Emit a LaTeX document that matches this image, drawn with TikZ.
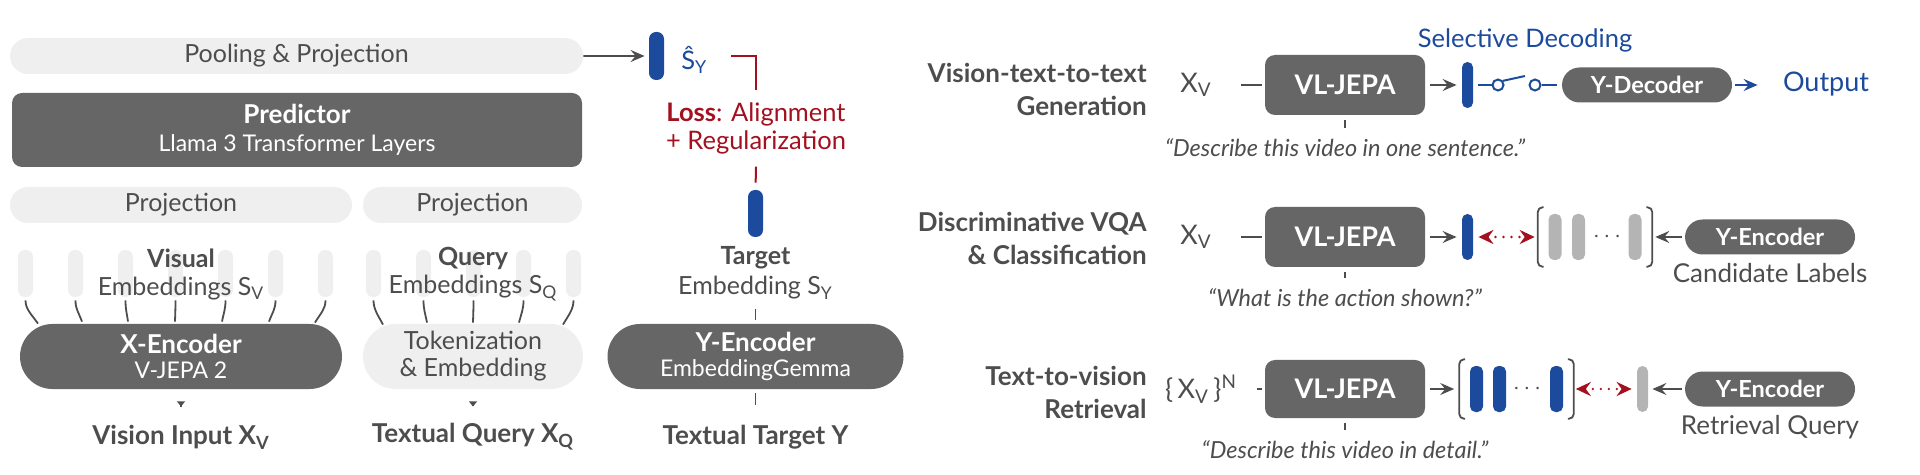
\documentclass[tikz,border=0pt]{standalone}
\usepackage{fontspec}
\setmainfont{Lato}
\usepackage{tikz}
\usetikzlibrary{arrows.meta, calc, fit, positioning, shapes.misc}
\definecolor{jepadark}{HTML}{666666}
\definecolor{jepalight}{HTML}{EFEFEF}
\definecolor{jepatext}{HTML}{4D4D4D}
\definecolor{jepablue}{HTML}{1C4A9C}
\definecolor{jepared}{HTML}{A3101F}
\definecolor{jepabar}{HTML}{B4B4B4}

\begin{document}
\begin{tikzpicture}[
	x=0.5pt, y=-0.5pt,
	texts/.style = {text=jepatext, font=\fontsize{12.5}{14}\selectfont, inner sep=1.5pt},
	boldtexts/.style = {texts, font=\fontsize{13}{14}\selectfont\bfseries},
	quotetexts/.style = {texts, font=\fontsize{11.75}{13}\selectfont\itshape},
	bluetexts/.style = {texts, text=jepablue, font=\fontsize{12.75}{14}\selectfont},
	redtexts/.style = {texts, text=jepared, align=center, font=\fontsize{12.75}{14}\selectfont},
	rowtexts/.style = {texts, align=right, anchor=east, font=\fontsize{13}{16.5}\selectfont\bfseries},
	pill/.style = {rounded rectangle, inner sep=0pt, align=center},
	lightpill/.style = {pill, texts, inner sep=0pt, fill=jepalight},
	darkpill/.style = {pill, fill=jepadark, text=white, font=\fontsize{13}{12.5}\selectfont},
	smallpill/.style = {darkpill, minimum width=85pt, minimum height=17.5pt, font=\fontsize{11.75}{12}\selectfont\bfseries},
	darkbox/.style = {rectangle, rounded corners=5pt, fill=jepadark, text=white, align=center, inner sep=0pt},
	tokenbar/.style = {rectangle, rounded corners=3.5pt, inner sep=0pt, minimum width=7.5pt, minimum height=23.5pt},
	slimbar/.style = {tokenbar, rounded corners=2.7pt, minimum width=5.5pt, minimum height=23pt},
	link/.style = {draw=jepatext, line width=0.9pt},
	grayarrow/.style = {link, -{Stealth[length=7pt, width=6pt, inset=2.5pt]}},
	bluearrow/.style = {draw=jepablue, line width=1pt, -{Stealth[length=7pt, width=6pt, inset=2.5pt]}},
	blueline/.style = {draw=jepablue, line width=1pt},
	lossline/.style = {draw=jepared, line width=1pt},
	reddots/.style = {draw=jepared, line width=1.3pt, dash pattern=on 0pt off 4pt, line cap=round,
		{Stealth[length=7.5pt, width=7pt, inset=2.5pt]}-{Stealth[length=7.5pt, width=7pt, inset=2.5pt]}},
	bracket/.style = {draw=jepatext, line width=0.9pt, rounded corners=2.5pt},
	switchnode/.style = {circle, draw=jepablue, line width=1pt, fill=white, inner sep=0pt, minimum size=5.5pt}
]
	\useasboundingbox (0,0) rectangle (1920,475);

	% training side
	\node[lightpill, minimum width=286.5pt, minimum height=18pt] (pool) at (296.5,56) {Pooling \& Projection};
	\node[darkbox, minimum width=285pt, minimum height=37pt, font=\fontsize{11.5}{14}\selectfont] (pred) at (297,130)
		{{\fontsize{13}{14}\selectfont\bfseries Predictor}\\Llama 3 Transformer Layers};
	\node[lightpill, minimum width=171pt, minimum height=18pt] (projv) at (181,205) {Projection};
	\node[lightpill, minimum width=109.5pt, minimum height=18pt] (projq) at (472.5,205) {Projection};
	\foreach \i in {1,...,7}
		\node[tokenbar, fill=jepalight] (vbar\i) at ({25.5+50*(\i-1)},273.5) {};
	\foreach \i in {1,...,5}
		\node[tokenbar, fill=jepalight] (qbar\i) at ({373.5+50*(\i-1)},273.5) {};
	\node[texts, align=center] (vemb) at (181,274) {{\bfseries Visual}\\Embeddings S\textsubscript{V}};
	\node[texts, align=center] (qemb) at (473,274) {{\bfseries Query}\\Embeddings S\textsubscript{Q}};
	\node[darkpill, minimum width=161pt, minimum height=32.5pt] (xenc) at (181,356.5)
		{{\bfseries X-Encoder}\\{\fontsize{11.5}{12.5}\selectfont V-JEPA 2}};
	\node[lightpill, minimum width=110pt, minimum height=32.5pt, font=\fontsize{12.5}{13.5}\selectfont] (tok) at (473,356.5) {Tokenization\\\& Embedding};
	\node[boldtexts] (vinput) at (181,437) {Vision Input X\textsubscript{V}};
	\node[boldtexts] (qinput) at (473,437) {Textual Query X\textsubscript{Q}};

	\node[tokenbar, minimum height=24pt, fill=jepablue] (shat) at (656.5,56) {};
	\node[bluetexts, anchor=west] (shatlabel) at (678,60) {\^{S}\textsubscript{Y}};
	\coordinate (lossstart) at (731,56);
	\node[redtexts, inner sep=6pt] (loss) at (756,128.5) {{\bfseries Loss}: Alignment\\+ Regularization};
	\node[tokenbar, fill=jepablue] (ytarget) at (755.5,213.5) {};
	\node[texts, align=center, font=\fontsize{12.5}{15}\selectfont] (temb) at (755.5,273) {{\bfseries Target}\\Embedding S\textsubscript{Y}};
	\node[darkpill, minimum width=148pt, minimum height=32.5pt] (yenc) at (755.5,356.5)
		{{\bfseries Y-Encoder}\\{\fontsize{11.5}{12.5}\selectfont EmbeddingGemma}};
	\node[boldtexts] (tinput) at (755.5,437) {Textual Target Y};

	\draw[grayarrow, shorten >=2pt] (pool) -- (shat);
	\draw[lossline] (lossstart) -| (loss.north);
	\draw[lossline, shorten >=3.5pt] (loss.south) -- (ytarget.north);
	\foreach \i/\dx/\dy in {1/-143/0, 2/-99/-2, 3/-53/-2, 4/-6/-2, 5/41/-2, 6/88/-2, 7/134/-1}
		\draw[link] ([yshift=-1.5pt]vbar\i.south) .. controls +(0,9) and +({(25.5+50*(\i-1)-181-(\dx))*0.5},-9) .. ($(xenc.north)+(\dx,\dy)$);
	\foreach \i/\dx/\dy in {1/-90/1, 2/-46/-1, 3/0/-1, 4/46/-1, 5/90/1}
		\draw[link] ([yshift=-1.5pt]qbar\i.south) .. controls +(0,9) and +({(373.5+50*(\i-1)-473-(\dx))*0.5},-9) .. ($(tok.north)+(\dx,\dy)$);
	\draw[link, {Triangle[reversed, length=2.5pt, width=4pt]}-, shorten <=6pt, shorten >=7.5pt] (xenc.south) -- (vinput.north);
	\draw[link, {Triangle[reversed, length=2.5pt, width=4pt]}-, shorten <=6pt, shorten >=7.5pt] (tok.south) -- (qinput.north);
	\draw[link, shorten <=3pt, shorten >=2pt] (temb.south) -- (yenc.north);
	\draw[link, shorten <=2pt, shorten >=8.5pt] (yenc.south) -- (tinput.north);

	% inference side
	\node[rowtexts] (gentitle) at (1150,89.5) {Vision-text-to-text\\Generation};
	\node[rowtexts] (clstitle) at (1150,238.5) {Discriminative VQA\\\& Classification};
	\node[rowtexts] (rettitle) at (1150,392.5) {Text-to-vision\\Retrieval};
	\node[texts, font=\fontsize{13.5}{14}\selectfont] (xv1) at (1196,85) {X\textsubscript{V}};
	\node[texts, font=\fontsize{13.5}{14}\selectfont] (xv2) at (1196,237) {X\textsubscript{V}};
	\node[texts, font=\fontsize{13.5}{14}\selectfont] (xv3) at (1201,389) {\{\,X\textsubscript{V}\,\}\textsuperscript{N}};
	\foreach \r/\y/\h in {1/85/30, 2/237/30, 3/389/29}
		\node[darkbox, minimum width=80pt, minimum height=\h pt, font=\fontsize{13.5}{14}\selectfont\bfseries] (vl\r) at (1345,\y) {VL-JEPA};
	\node[quotetexts] (q1) at (1345,148) {``Describe this video in one sentence.''};
	\node[quotetexts] (q2) at (1345,298) {``What is the action shown?''};
	\node[quotetexts] (q3) at (1345,450) {``Describe this video in detail.''};
	\foreach \r in {1,2,3}
		\draw[link, line width=0.7pt, shorten <=2.5pt, shorten >=4pt] (vl\r.south) -- (q\r.north);
	\draw[link, shorten <=13pt, shorten >=1.5pt] (vl1.west -| xv1.east) -- (vl1.west);
	\draw[link, shorten <=13pt, shorten >=1.5pt] (vl2.west -| xv2.east) -- (vl2.west);
	\draw[link, shorten <=8.5pt, shorten >=1.5pt] (vl3.west -| xv3.east) -- (vl3.west);

	% generation
	\node[slimbar, fill=jepablue] (ybar1) at (1467.5,85) {};
	\node[switchnode] (sw1) at (1498,85) {};
	\node[switchnode] (sw2) at (1535,85) {};
	\coordinate (leverend) at (1525,76);
	\node[smallpill] (ydec) at (1647,85) {Y-Decoder};
	\node[bluetexts, font=\fontsize{13.5}{14}\selectfont] (output) at (1826,84) {Output};
	\node[bluetexts] (seldec) at (1525,40) {Selective Decoding};
	\draw[grayarrow, shorten <=2.5pt, shorten >=2.5pt] (vl1) -- (ybar1);
	\draw[blueline, shorten <=2.5pt] (ybar1) -- (sw1);
	\draw[blueline] (sw1.40) -- (leverend);
	\draw[blueline, shorten >=2.5pt] (sw2) -- (ydec);
	\draw[bluearrow, shorten <=1.5pt, shorten >=11pt] (ydec.east) -- (ydec.east -| output.west);

	% classification
	\node[slimbar, fill=jepablue] (ybar2) at (1467.5,237) {};
	\foreach \i/\x in {1/1555, 2/1578.5, 3/1635}
		\node[slimbar, minimum width=6.5pt, fill=jepabar] (cbar\i) at (\x,237) {};
	\node[texts] (cdots) at (1607,237) {$\cdots$};
	\node[fit=(cbar1)(cbar3), inner xsep=5pt, inner ysep=3pt] (cands) {};
	\node[smallpill] (yenc2) at (1770,237) {Y-Encoder};
	\node[texts, font=\fontsize{13}{14}\selectfont, below=2.5pt of yenc2] (candlabel) {Candidate Labels};
	\draw[grayarrow, shorten <=2.5pt, shorten >=2.5pt] (vl2) -- (ybar2);
	\draw[reddots, shorten <=2.5pt, shorten >=1.5pt] (ybar2) -- (cands.west);
	\draw[grayarrow, shorten <=1.5pt, shorten >=1.5pt] (yenc2) -- (cands.east);

	% retrieval
	\foreach \i/\x in {1/1476.5, 2/1499.5, 3/1556.5}
		\node[slimbar, minimum width=6.5pt, fill=jepablue] (rbar\i) at (\x,389) {};
	\node[texts] (rdots) at (1527,389) {$\cdots$};
	\node[fit=(rbar1)(rbar3), inner xsep=5pt, inner ysep=3pt] (rets) {};
	\node[slimbar, fill=jepabar] (qybar) at (1642.5,389) {};
	\node[smallpill] (yenc3) at (1770,389) {Y-Encoder};
	\node[texts, font=\fontsize{13}{14}\selectfont, below=2.5pt of yenc3] (retlabel) {Retrieval Query};
	\draw[grayarrow, shorten <=2.5pt, shorten >=2.5pt] (vl3) -- (rets.west);
	\draw[reddots, shorten <=1pt, shorten >=2.5pt] (rets.east) -- (qybar);
	\draw[grayarrow, shorten <=1.5pt, shorten >=2pt] (yenc3) -- (qybar);

	\foreach \s in {cands, rets} {
		\draw[bracket] ([xshift=3pt]\s.north west) -- (\s.north west) -- (\s.south west) -- ([xshift=3pt]\s.south west);
		\draw[bracket] ([xshift=-3pt]\s.north east) -- (\s.north east) -- (\s.south east) -- ([xshift=-3pt]\s.south east);
	}
\end{tikzpicture}
\end{document}
